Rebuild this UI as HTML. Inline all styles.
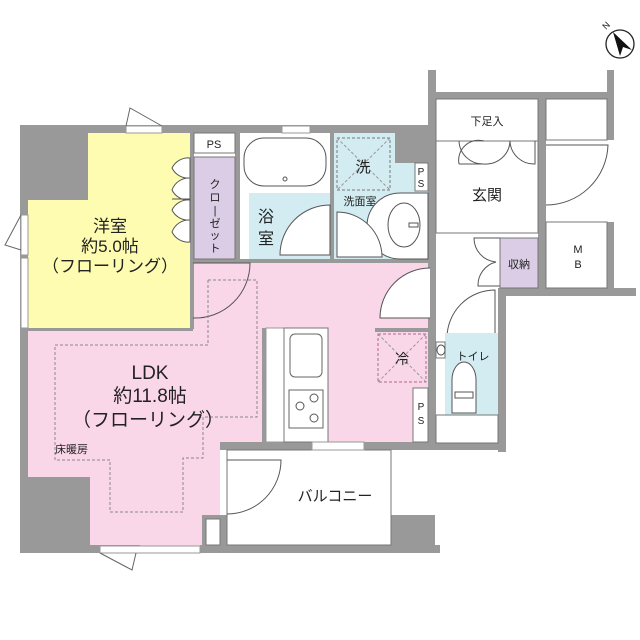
<!DOCTYPE html>
<html><head><meta charset="utf-8"><style>
html,body{margin:0;padding:0;background:#fff;width:640px;height:640px;overflow:hidden}
text{font-family:"Liberation Sans","Noto Sans CJK JP",sans-serif;fill:#222}
</style></head><body>
<svg width="640" height="640" viewBox="0 0 640 640" xmlns="http://www.w3.org/2000/svg">
<g stroke="none">
<polygon points="28,328 193,328 193,262 430,262 430,442 220,442 220,545 200,545 200,548 90,548 90,477 28,477" fill="#fad7e8"/>
<rect x="20" y="125" width="410" height="8" fill="#999"/>
<rect x="20" y="125" width="68" height="75" fill="#999"/>
<rect x="20" y="125" width="8" height="428" fill="#999"/>
<rect x="20" y="477" width="70" height="76" fill="#999"/>
<rect x="20" y="545" width="120" height="8" fill="#999"/>
<rect x="200" y="545" width="240" height="8" fill="#999"/>
<rect x="395" y="125" width="35" height="38" fill="#999"/>
<rect x="428" y="70" width="8" height="380" fill="#999"/>
<rect x="428" y="92" width="186" height="7" fill="#999"/>
<rect x="607" y="70" width="7" height="70" fill="#999"/>
<rect x="607" y="222" width="7" height="70" fill="#999"/>
<rect x="538" y="99" width="8" height="190" fill="#999"/>
<rect x="498" y="288" width="138" height="8" fill="#999"/>
<rect x="498" y="288" width="8" height="164" fill="#999"/>
<rect x="220" y="442" width="286" height="8" fill="#999"/>
<rect x="391" y="515" width="44" height="38" fill="#999"/>
<rect x="202" y="515" width="25" height="38" fill="#999"/>
<rect x="190" y="133" width="4" height="196" fill="#999"/>
<rect x="235" y="133" width="5" height="130" fill="#999"/>
<rect x="330" y="133" width="4" height="130" fill="#999"/>
<rect x="190" y="259" width="240" height="4" fill="#999"/>
<rect x="262" y="328" width="4" height="114" fill="#999"/>
</g>
<polygon points="88,133 190,133 190,328 28,328 28,200 88,200" fill="#fdfcb0"/>
<rect x="28" y="328" width="165" height="3" fill="#999"/>
<rect x="194" y="133" width="41" height="20" fill="#fff" stroke="#777"/>
<text x="214" y="148" font-size="11" text-anchor="middle">PS</text>
<rect x="194" y="157" width="41" height="102" fill="#dccde6" stroke="#777"/>
<text font-size="11" x="215" y="188" text-anchor="middle">ク</text>
<text font-size="11" x="215" y="201" text-anchor="middle">ロ</text>
<text font-size="11" x="215" y="214" text-anchor="middle">|</text>
<text font-size="11" x="215" y="227" text-anchor="middle">ゼ</text>
<text font-size="11" x="215" y="239" text-anchor="middle">ッ</text>
<text font-size="11" x="215" y="252" text-anchor="middle">ト</text>
<g fill="#fff" stroke="#555" stroke-width="1">
<path d="M190,158 A18,18 0 0 0 172,168 A18,18 0 0 0 190,178 Z"/>
<path d="M190,178 A18,18 0 0 0 172,190 A18,18 0 0 0 190,200 Z"/>
<path d="M190,200 A18,18 0 0 0 172,210 A18,18 0 0 0 190,220 Z"/>
<path d="M190,220 A18,18 0 0 0 172,232 A18,18 0 0 0 190,242 Z"/>
<line x1="172" y1="199" x2="190" y2="199"/>
</g>
<rect x="240" y="133" width="90" height="126" fill="#fff"/>
<rect x="249" y="193" width="81" height="66" fill="#d2ecf2"/>
<rect x="244" y="138" width="82" height="48" rx="20" fill="#fff" stroke="#555"/>
<circle cx="285" cy="179" r="2" fill="none" stroke="#555"/>
<path d="M330,205 A50,50 0 0 0 280,255 L330,255Z" fill="#fff" stroke="#555"/>
<text x="258" y="222" font-size="16">浴</text>
<text x="258" y="244" font-size="16">室</text>
<rect x="282" y="126" width="28" height="7" fill="#fff" stroke="#999"/>
<polygon points="334,133 395,133 395,163 428,163 428,259 334,259" fill="#d2ecf2"/>
<rect x="337" y="138" width="53" height="52" fill="none" stroke="#777" stroke-dasharray="3,2"/>
<path d="M337,138 L390,190 M390,138 L337,190" stroke="#999" stroke-dasharray="3,2"/>
<text x="363" y="172" font-size="15" text-anchor="middle">洗</text>
<text x="360" y="205" font-size="11" text-anchor="middle">洗面室</text>
<rect x="415" y="163" width="13" height="28" fill="#fff" stroke="#777"/>
<text x="421" y="175" font-size="10" text-anchor="middle">P</text>
<text x="421" y="187" font-size="10" text-anchor="middle">S</text>
<path d="M400,193 L428,193 L428,259 L400,259 A33,33 0 0 1 400,193Z" fill="#fff" stroke="#555"/>
<ellipse cx="404" cy="225" rx="16" ry="22" fill="none" stroke="#555"/>
<rect x="409" y="223" width="9" height="4" fill="none" stroke="#555"/>
<path d="M337,212 A45,45 0 0 1 382,257 L337,257Z" fill="#fff" stroke="#555"/>
<rect x="436" y="99" width="102" height="42" fill="#fff" stroke="#777"/>
<text x="487" y="125" font-size="11" text-anchor="middle">下足入</text>
<rect x="436" y="141" width="102" height="92" fill="#fff" stroke="#777"/>
<g fill="none" stroke="#555">
<path d="M459,141 A24,24 0 0 0 484,164 L459,164"/>
<path d="M484,141 A20,20 0 0 0 459,164"/>
<path d="M510,141 A24,24 0 0 1 484,164"/>
<path d="M510,141 A24,24 0 0 0 535,164 L535,141"/>
</g>
<text x="487" y="200" font-size="15" text-anchor="middle">玄関</text>
<rect x="546" y="99" width="61" height="41" fill="#fff" stroke="#777"/>
<path d="M546,145 L608,145 A62,62 0 0 1 546,205" fill="none" stroke="#555"/>
<rect x="546" y="222" width="61" height="66" fill="#fff" stroke="#777"/>
<text x="578" y="253" font-size="11" text-anchor="middle">M</text>
<text x="578" y="268" font-size="11" text-anchor="middle">B</text>
<rect x="500" y="238" width="38" height="50" fill="#dccde6" stroke="#777"/>
<text x="519" y="268" font-size="11" text-anchor="middle">収納</text>
<path d="M500,238 L474,238 A24,24 0 0 0 496,262 A24,24 0 0 0 478,286 L500,286" fill="none" stroke="#555"/>
<path d="M495,290 A48,48 0 0 0 447,338 L495,338 Z" fill="#fff" stroke="#555"/>
<rect x="445" y="333" width="53" height="82" fill="#d2ecf2"/>
<rect x="436" y="415" width="62" height="28" fill="#fff" stroke="#777"/>
<text x="473" y="360" font-size="11" text-anchor="middle">トイレ</text>
<path d="M452,413 L452,380 A12,18 0 0 1 476,380 L476,413Z" fill="#fff" stroke="#555"/>
<rect x="455" y="392" width="18" height="6" fill="#fff" stroke="#555"/>
<rect x="436" y="342" width="9" height="16" fill="#fff" stroke="#777"/>
<ellipse cx="441" cy="350" rx="4" ry="5" fill="none" stroke="#555"/>
<path d="M193,263 L250,263 A55,55 0 0 1 193,318" fill="none" stroke="#555"/>
<path d="M430,268 A50,50 0 0 0 380,318 L430,318" fill="#fff" stroke="#555"/>
<rect x="375" y="328" width="55" height="4" fill="#999"/>
<rect x="378" y="334" width="48" height="48" fill="none" stroke="#aa6a88" stroke-dasharray="3,2"/>
<path d="M378,334 L426,382 M426,334 L378,382" stroke="#999" stroke-dasharray="3,2"/>
<text x="402" y="364" font-size="14" text-anchor="middle">冷</text>
<rect x="413" y="388" width="15" height="54" fill="#fff" stroke="#777"/>
<text x="421" y="410" font-size="10" text-anchor="middle">P</text>
<text x="421" y="424" font-size="10" text-anchor="middle">S</text>
<rect x="266" y="328" width="18" height="114" fill="#fff" stroke="#999"/>
<rect x="284" y="328" width="44" height="114" fill="#fff" stroke="#777"/>
<rect x="290" y="334" width="32" height="43" rx="5" fill="#fff" stroke="#666"/>
<rect x="289" y="390" width="34" height="38" fill="#fff" stroke="#666"/>
<circle cx="300" cy="406" r="4" fill="none" stroke="#555"/>
<circle cx="314" cy="398" r="4" fill="none" stroke="#555"/>
<circle cx="314" cy="418" r="4" fill="none" stroke="#555"/>
<polyline points="208,280 208,345 55,345 55,460 110,460 110,512 183,512 183,458 203,458 203,417 257,417 257,280 208,280" fill="none" stroke="#888" stroke-dasharray="3,2"/>
<text x="55" y="453" font-size="11">床暖房</text>
<text x="150" y="379" font-size="19" text-anchor="middle">LDK</text>
<text x="150" y="402" font-size="19" text-anchor="middle">約11.8帖</text>
<text x="148" y="426" font-size="19" text-anchor="middle">（フローリング）</text>
<text x="110" y="232" font-size="17" text-anchor="middle">洋室</text>
<text x="110" y="252" font-size="17" text-anchor="middle">約5.0帖</text>
<text x="110" y="272" font-size="17" text-anchor="middle">（フローリング）</text>
<rect x="126" y="126" width="36" height="7" fill="#fff" stroke="#999"/>
<path d="M126,126 L130,108 L162,126" fill="none" stroke="#666"/>
<rect x="21" y="215" width="7" height="40" fill="#fff" stroke="#999"/>
<path d="M21,215 L5,245 L21,250" fill="none" stroke="#666"/>
<rect x="21" y="258" width="7" height="70" fill="#fff" stroke="#999"/>
<rect x="100" y="546" width="100" height="7" fill="#fff" stroke="#999"/>
<path d="M100,553 L132,570 L136,553" fill="none" stroke="#666"/>
<rect x="227" y="450" width="164" height="95" fill="#fff" stroke="#777"/>
<rect x="206" y="519" width="14" height="26" fill="#fff" stroke="#777"/>
<path d="M227,460 L281,460 A54,54 0 0 1 227,514" fill="none" stroke="#555"/>
<text x="335" y="501" font-size="15" text-anchor="middle">バルコニー</text>
<rect x="312" y="442" width="52" height="8" fill="#fff" stroke="#999"/>
<circle cx="620" cy="44" r="14" fill="none" stroke="#222" stroke-width="1.3"/>
<polygon points="613,32 632,50 623,47 620,56" fill="#111"/>
<text x="606" y="30" font-size="9" transform="rotate(-45 606 30)">N</text>
</svg>
</body></html>
